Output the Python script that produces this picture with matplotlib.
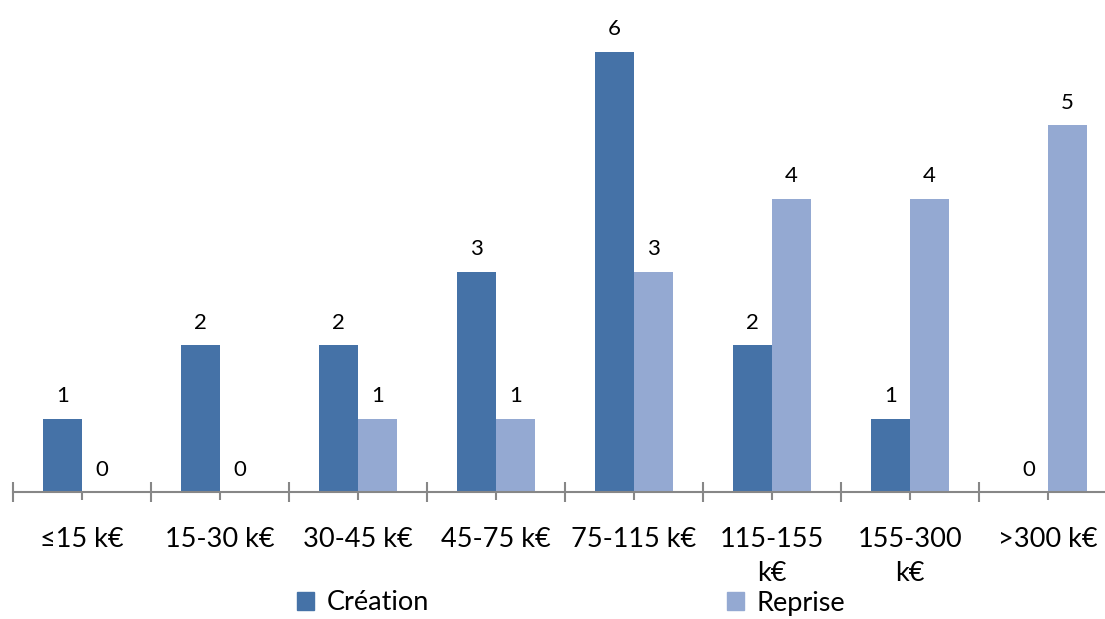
import numpy as np
import matplotlib
matplotlib.use('Agg')
import matplotlib.pyplot as plt
from matplotlib.patches import Patch

plt.rcParams['font.family'] = ['Lato', 'DejaVu Sans']

categories = ['≤15 k€', '15-30 k€', '30-45 k€', '45-75 k€', '75-115 k€',
              '115-155\nk€', '155-300\nk€', '>300 k€']
creation = [1, 2, 2, 3, 6, 2, 1, 0]
reprise = [0, 0, 1, 1, 3, 4, 4, 5]

c_crea = '#4572A7'
c_rep = '#94A9D2'
gris = '#878787'

fig = plt.figure(figsize=(11.05, 6.19), dpi=100)
# the axis runs past the right edge of the image, as in the original
ax = fig.add_axes([13 / 1105, 127 / 619, 1104 / 1105, 476.7 / 619])

x = np.arange(len(categories)) + 0.5
w = 39 / 138
b1 = ax.bar(x - w / 2, creation, w, color=c_crea)
b2 = ax.bar(x + w / 2, reprise, w, color=c_rep)
ax.bar_label(b1, padding=9, fontsize=16)
ax.bar_label(b2, padding=9, fontsize=16)

ax.set_xlim(0, 8)
ax.set_ylim(0, 6.5)
ax.set_yticks([])
for s in ['top', 'right', 'left']:
    ax.spines[s].set_visible(False)
ax.spines['bottom'].set_color(gris)
ax.spines['bottom'].set_linewidth(1.5)

ax.set_xticks(x)
ax.set_xticklabels(categories, fontsize=19.5, linespacing=1.45)
ax.set_xticks(np.arange(0, 9), minor=True)
ax.tick_params(axis='x', which='major', direction='out', length=6,
               width=1.5, color=gris, pad=19)
ax.tick_params(axis='x', which='minor', direction='inout', length=15,
               width=1.5, color=gris)

handles = [Patch(color=c_crea, label='Création'),
           Patch(color=c_rep, label='Reprise')]
fig.legend(handles=handles, loc='center', bbox_to_anchor=(571 / 1105, 1 - 603 / 619),
           ncol=2, frameon=False, fontsize=19.5, handlelength=0.65, handleheight=0.65,
           handletextpad=0.45, columnspacing=11.0, borderpad=0)

fig.savefig('out.png', dpi=100)
